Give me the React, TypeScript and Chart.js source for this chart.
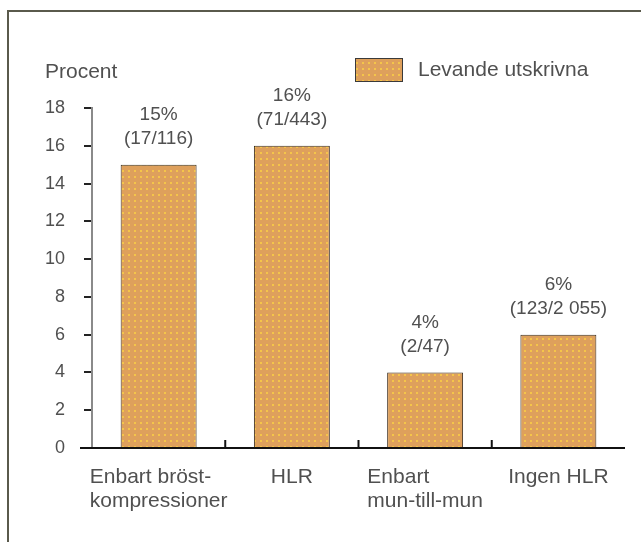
import React, { useEffect, useRef } from "react";
import { Chart, registerables } from "chart.js";

Chart.register(...registerables);

const categories: string[][] = [
  ["Enbart bröst-", "kompressioner"],
  ["HLR"],
  ["Enbart", "mun-till-mun"],
  ["Ingen HLR"],
];
const survivalPercent = [15, 16, 4, 6];
const percentLabels = ["15%", "16%", "4%", "6%"];
const countLabels = ["(17/116)", "(71/443)", "(2/47)", "(123/2 055)"];
const seriesLabel = "Levande utskrivna";
const yAxisTitle = "Procent";
const yMin = 0;
const yMax = 18;
const yStep = 2;

const FONT = '"Liberation Sans", Arial, sans-serif';
const TEXT = "#505050";

function makePattern(ctx: CanvasRenderingContext2D) {
  const c = document.createElement("canvas");
  c.width = 6;
  c.height = 6;
  const p = c.getContext("2d")!;
  p.fillStyle = "#DEA05C";
  p.fillRect(0, 0, 6, 6);
  p.fillStyle = "#F4C54A";
  p.fillRect(2, 2, 2, 2);
  return ctx.createPattern(c, "repeat");
}

const decorPlugin = {
  id: "decor",
  beforeDraw(chart: any) {
    const ctx = chart.ctx;
    ctx.save();
    ctx.strokeStyle = "#5a5a4c";
    ctx.lineWidth = 2;
    ctx.beginPath();
    ctx.moveTo(8, chart.height);
    ctx.lineTo(8, 11);
    ctx.lineTo(chart.width, 11);
    ctx.stroke();
    ctx.restore();
  },
  afterDraw(chart: any) {
    const ctx = chart.ctx;
    const area = chart.chartArea;
    const xs = chart.scales.x;
    ctx.save();
    // x axis line (extends slightly left of the y axis) and category separators
    ctx.strokeStyle = "#111";
    ctx.lineWidth = 2;
    ctx.beginPath();
    ctx.moveTo(area.left - 12, area.bottom);
    ctx.lineTo(area.right, area.bottom);
    ctx.stroke();
    for (let i = 0; i < categories.length - 1; i++) {
      const x = (xs.getPixelForValue(i) + xs.getPixelForValue(i + 1)) / 2;
      ctx.beginPath();
      ctx.moveTo(x, area.bottom);
      ctx.lineTo(x, area.bottom - 8);
      ctx.stroke();
    }
    // x labels (left-aligned lines, block centred on category)
    ctx.font = `21px ${FONT}`;
    ctx.fillStyle = TEXT;
    ctx.textBaseline = "middle";
    ctx.textAlign = "left";
    categories.forEach((lines, i) => {
      const cx = xs.getPixelForValue(i);
      const w = Math.max(...lines.map((l) => ctx.measureText(l).width));
      const left = cx - w / 2;
      lines.forEach((l, j) => {
        ctx.fillText(l, left, area.bottom + 29 + j * 24);
      });
    });
    // y title
    ctx.fillText(yAxisTitle, 45, 72);
    // legend
    const ds = chart.data.datasets[0];
    ctx.fillStyle = ds.backgroundColor;
    ctx.fillRect(355, 58, 48, 24);
    ctx.strokeStyle = "#3a3a3a";
    ctx.lineWidth = 1;
    ctx.strokeRect(355.5, 58.5, 47, 23);
    ctx.fillStyle = TEXT;
    ctx.fillText(ds.label, 418, 70);
    // value labels
    const meta = chart.getDatasetMeta(0);
    ctx.font = `19px ${FONT}`;
    ctx.textAlign = "center";
    meta.data.forEach((bar: any, i: number) => {
      ctx.fillText(percentLabels[i], bar.x, bar.y - 50);
      ctx.fillText(countLabels[i], bar.x, bar.y - 26);
    });
    ctx.restore();
  },
};

export default function App() {
  const ref = useRef<HTMLCanvasElement>(null);
  useEffect(() => {
    document.body.style.margin = "0";
    const canvas = ref.current!;
    const ctx = canvas.getContext("2d")!;
    const pattern = makePattern(ctx);
    const chart = new Chart(canvas, {
      type: "bar",
      data: {
        labels: categories.map((c) => c.join(" ")),
        datasets: [
          {
            label: seriesLabel,
            data: survivalPercent,
            backgroundColor: pattern as any,
            borderColor: "#3a2c1e",
            borderWidth: 1,
            borderSkipped: "bottom",
            barPercentage: 0.57,
            categoryPercentage: 1,
          },
        ],
      },
      options: {
        responsive: false,
        animation: false,
        devicePixelRatio: 1,
        layout: { padding: { top: 108, right: 16, left: 0, bottom: 0 } },
        plugins: { legend: { display: false }, tooltip: { enabled: false } },
        scales: {
          x: {
            offset: true,
            grid: { display: false },
            border: { display: false },
            ticks: { display: false },
            afterFit: (s: any) => {
              s.height = 94;
            },
          },
          y: {
            min: yMin,
            max: yMax,
            ticks: {
              stepSize: yStep,
              color: TEXT,
              font: { family: FONT, size: 18 },
              padding: 19,
            },
            grid: {
              drawOnChartArea: false,
              drawTicks: true,
              tickLength: 8,
              color: "#222",
              lineWidth: 2,
            },
            border: { color: "#8a8a8a", width: 2, dash: [2, 2] },
            afterFit: (s: any) => {
              s.width = 92;
            },
          },
        },
      },
      plugins: [decorPlugin],
    });
    return () => chart.destroy();
  }, []);
  return <canvas ref={ref} width={641} height={542} style={{ display: "block" }} />;
}
